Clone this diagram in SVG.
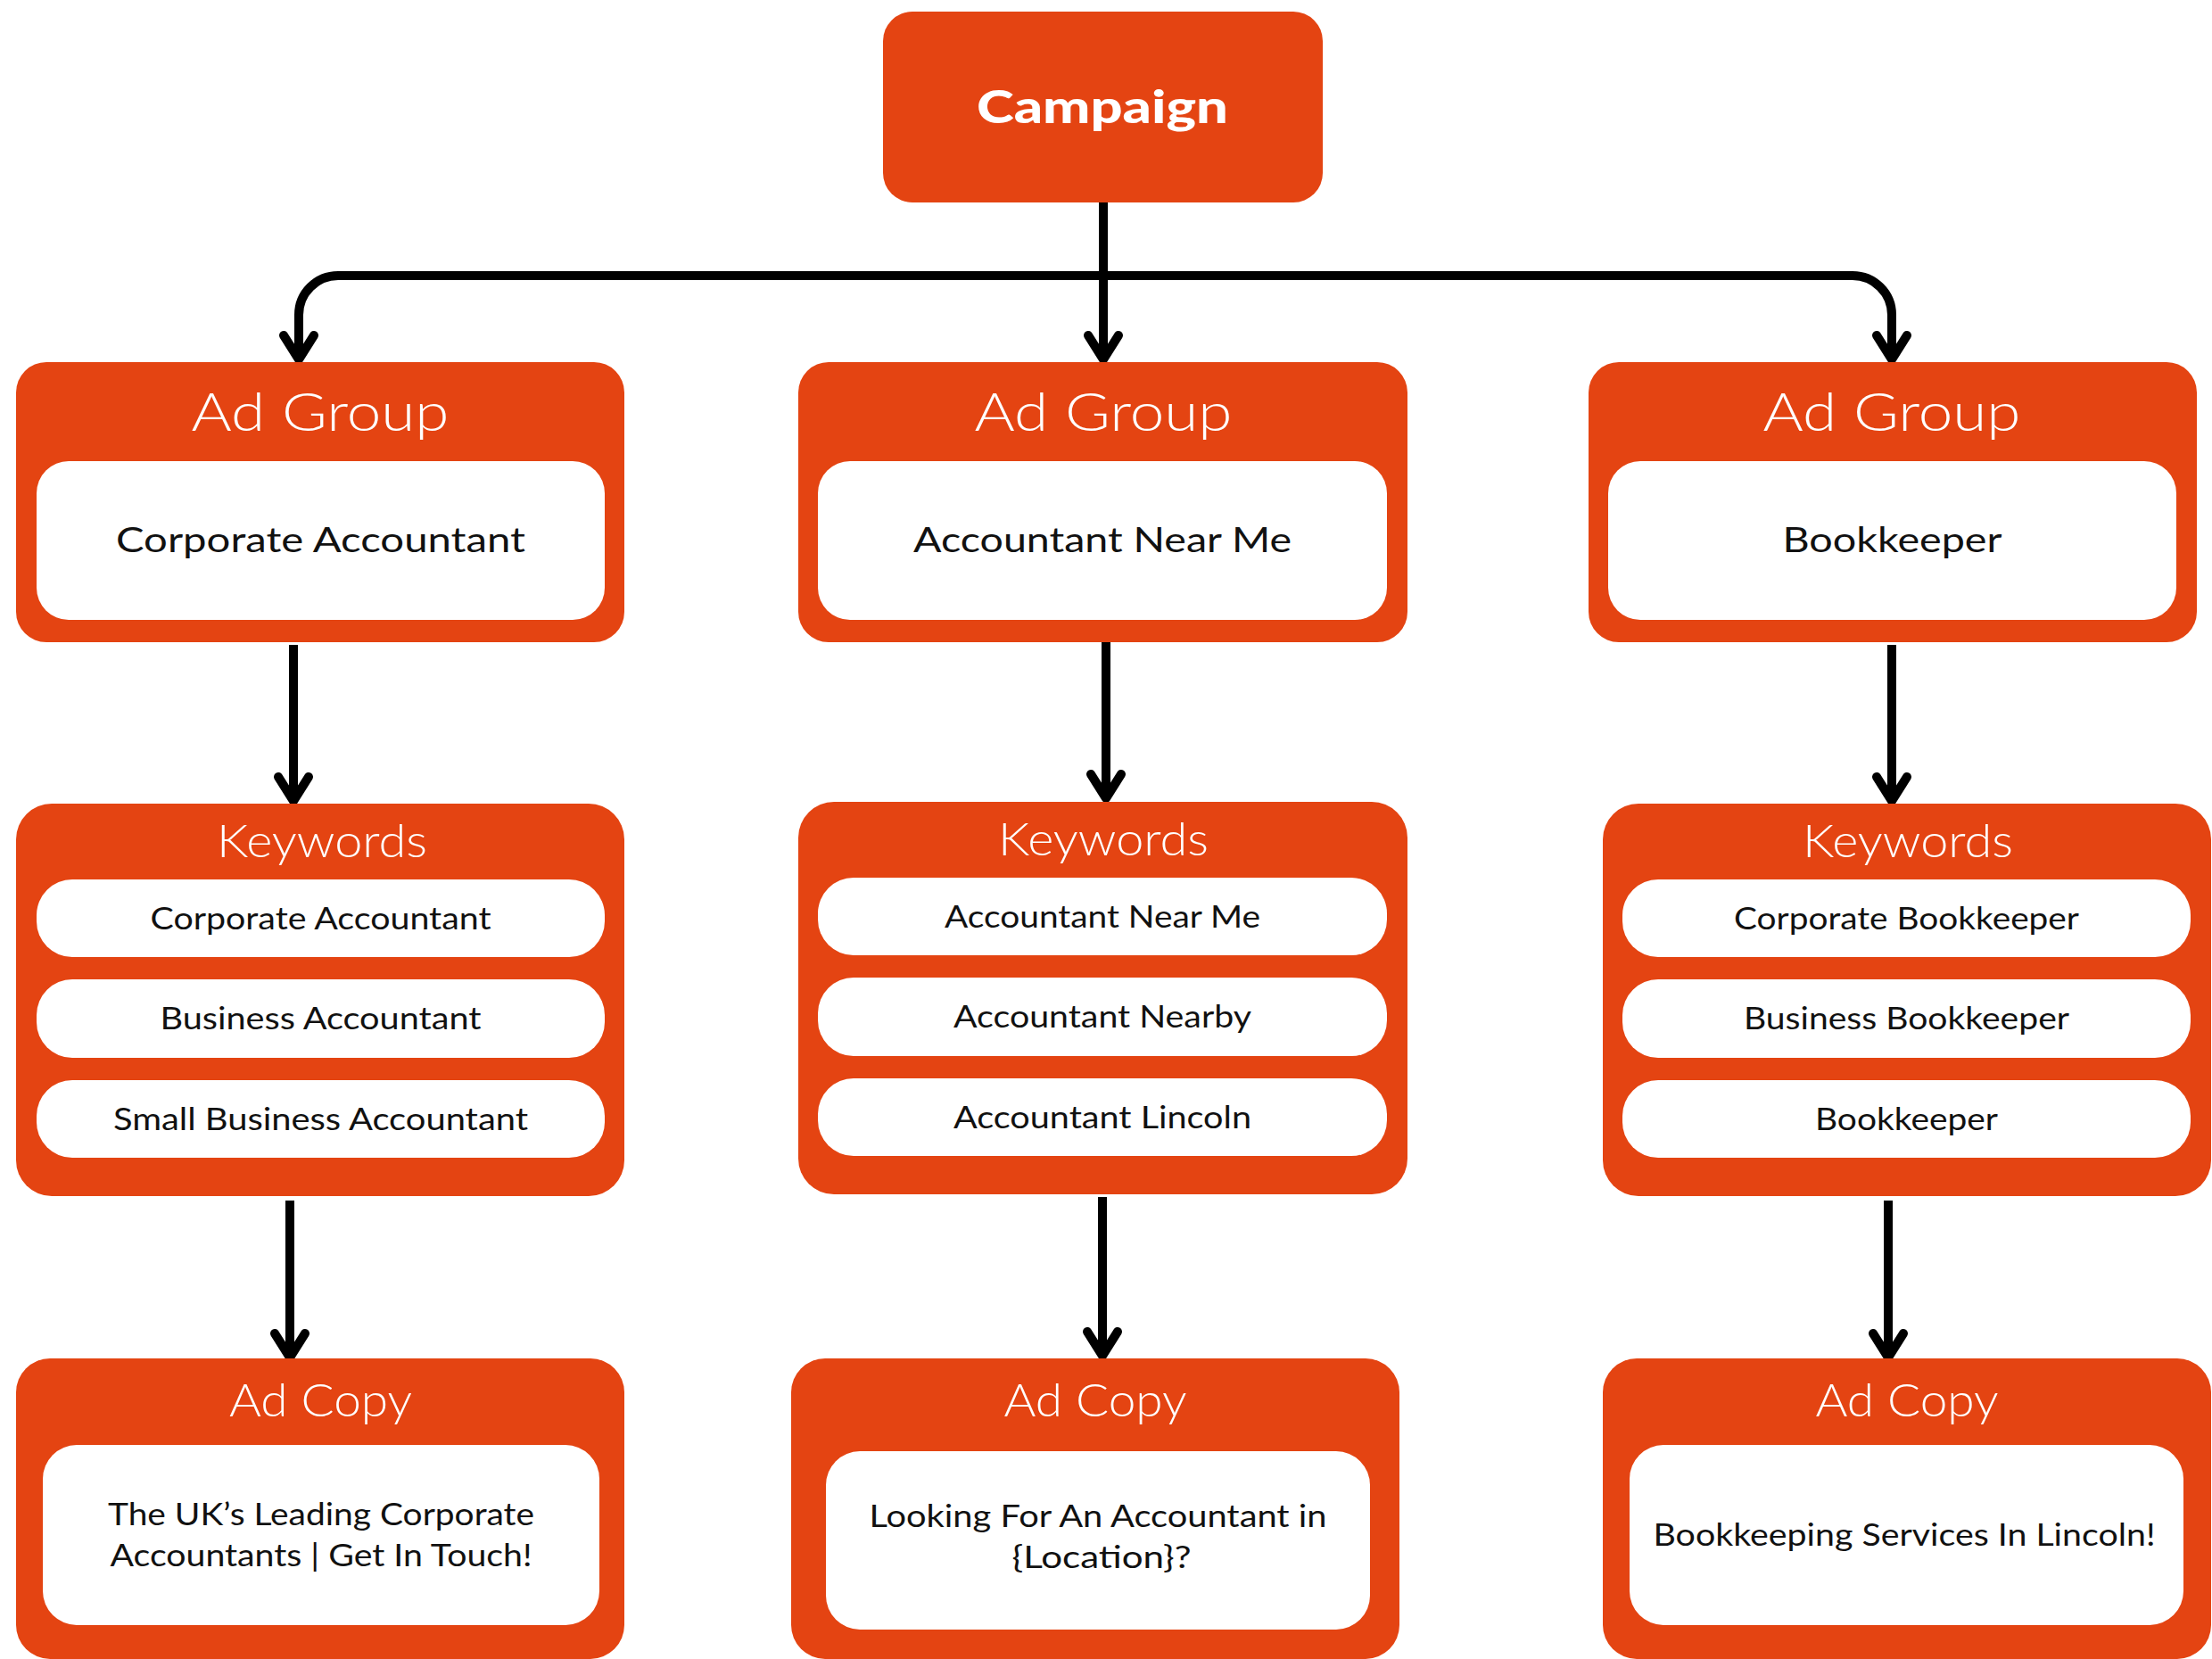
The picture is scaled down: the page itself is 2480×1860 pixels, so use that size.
<svg xmlns="http://www.w3.org/2000/svg" width="2480" height="1860" viewBox="0 0 2480 1860">
<defs>
<style>
.box{fill:#E44412}
.in{fill:#FFFFFF}
.t{font-family:Lato,"Open Sans","Liberation Sans",sans-serif;text-anchor:middle}
.camp{fill:#FFFFFF;font-size:52px;font-weight:900}
.hd{fill:#FFFFFF;font-size:59px;font-weight:300}
.hd2{fill:#FFFFFF;font-size:51px;font-weight:300}
.body{fill:#111111;font-size:39px;font-weight:400}
.kw{fill:#111111;font-size:35px;font-weight:400}
.conn{fill:none;stroke:#000000;stroke-width:10}
</style>
<marker id="arr" markerUnits="userSpaceOnUse" viewBox="-36 -26 42 52" refX="0" refY="0" markerWidth="42" markerHeight="52" orient="auto">
<path d="M-27,-17 L0,0 L-27,17" fill="none" stroke="#000000" stroke-width="10" stroke-linecap="round" stroke-linejoin="round"/>
</marker>
</defs>
<rect width="2480" height="1860" fill="#FFFFFF"/>

<g id="connectors">
<path class="conn" d="M1237,226 V403" marker-end="url(#arr)"/>
<path class="conn" d="M335,403 V353 A44,44 0 0 1 379,309 H2077 A44,44 0 0 1 2121,353 V403" marker-end="url(#arr)"/>
<path class="conn" d="M335,353 V403" marker-end="url(#arr)"/>
<path class="conn" d="M329,723 V898" marker-end="url(#arr)"/>
<path class="conn" d="M1240,720 V895" marker-end="url(#arr)"/>
<path class="conn" d="M2121,723 V898" marker-end="url(#arr)"/>
<path class="conn" d="M325,1346 V1522" marker-end="url(#arr)"/>
<path class="conn" d="M1236,1342 V1520" marker-end="url(#arr)"/>
<path class="conn" d="M2117,1346 V1522" marker-end="url(#arr)"/>
</g>

<g id="campaign">
<rect class="box" x="990" y="13" width="493" height="214" rx="33"/>
<text class="t camp" x="1236" y="138" textLength="282" lengthAdjust="spacingAndGlyphs">Campaign</text>
</g>

<g id="adgroup-1">
<rect class="box" x="18" y="406" width="682" height="314" rx="34"/>
<text class="t hd" x="359" y="483" textLength="289" lengthAdjust="spacingAndGlyphs">Ad Group</text>
<rect class="in" x="41" y="517" width="637" height="178" rx="36"/>
<text class="t body" x="359.5" y="619" textLength="459" lengthAdjust="spacingAndGlyphs">Corporate Accountant</text>
</g>
<g id="adgroup-2">
<rect class="box" x="895" y="406" width="683" height="314" rx="34"/>
<text class="t hd" x="1237" y="483" textLength="289" lengthAdjust="spacingAndGlyphs">Ad Group</text>
<rect class="in" x="917" y="517" width="638" height="178" rx="36"/>
<text class="t body" x="1236" y="619" textLength="424" lengthAdjust="spacingAndGlyphs">Accountant Near Me</text>
</g>
<g id="adgroup-3">
<rect class="box" x="1781" y="406" width="682" height="314" rx="34"/>
<text class="t hd" x="2121" y="483" textLength="289" lengthAdjust="spacingAndGlyphs">Ad Group</text>
<rect class="in" x="1803" y="517" width="637" height="178" rx="36"/>
<text class="t body" x="2121.5" y="619" textLength="246" lengthAdjust="spacingAndGlyphs">Bookkeeper</text>
</g>

<g id="keywords-1">
<rect class="box" x="18" y="901" width="682" height="440" rx="40"/>
<text class="t hd2" x="361" y="961" textLength="236" lengthAdjust="spacingAndGlyphs">Keywords</text>
<rect class="in" x="41" y="986" width="637" height="87" rx="40"/>
<text class="t kw" x="359.5" y="1042" textLength="382" lengthAdjust="spacingAndGlyphs">Corporate Accountant</text>
<rect class="in" x="41" y="1098" width="637" height="88" rx="40"/>
<text class="t kw" x="359.5" y="1154" textLength="360" lengthAdjust="spacingAndGlyphs">Business Accountant</text>
<rect class="in" x="41" y="1211" width="637" height="87" rx="40"/>
<text class="t kw" x="359.5" y="1267" textLength="465" lengthAdjust="spacingAndGlyphs">Small Business Accountant</text>
</g>
<g id="keywords-2">
<rect class="box" x="895" y="899" width="683" height="440" rx="40"/>
<text class="t hd2" x="1237" y="959" textLength="236" lengthAdjust="spacingAndGlyphs">Keywords</text>
<rect class="in" x="917" y="984" width="638" height="87" rx="40"/>
<text class="t kw" x="1236" y="1040" textLength="354" lengthAdjust="spacingAndGlyphs">Accountant Near Me</text>
<rect class="in" x="917" y="1096" width="638" height="88" rx="40"/>
<text class="t kw" x="1236" y="1152" textLength="334" lengthAdjust="spacingAndGlyphs">Accountant Nearby</text>
<rect class="in" x="917" y="1209" width="638" height="87" rx="40"/>
<text class="t kw" x="1236" y="1265" textLength="334" lengthAdjust="spacingAndGlyphs">Accountant Lincoln</text>
</g>
<g id="keywords-3">
<rect class="box" x="1797" y="901" width="682" height="440" rx="40"/>
<text class="t hd2" x="2139" y="961" textLength="236" lengthAdjust="spacingAndGlyphs">Keywords</text>
<rect class="in" x="1819" y="986" width="637" height="87" rx="40"/>
<text class="t kw" x="2137.5" y="1042" textLength="387" lengthAdjust="spacingAndGlyphs">Corporate Bookkeeper</text>
<rect class="in" x="1819" y="1098" width="637" height="88" rx="40"/>
<text class="t kw" x="2137.5" y="1154" textLength="365" lengthAdjust="spacingAndGlyphs">Business Bookkeeper</text>
<rect class="in" x="1819" y="1211" width="637" height="87" rx="40"/>
<text class="t kw" x="2137.5" y="1267" textLength="205" lengthAdjust="spacingAndGlyphs">Bookkeeper</text>
</g>

<g id="adcopy-1">
<rect class="box" x="18" y="1523" width="682" height="337" rx="38"/>
<text class="t hd2" x="359.5" y="1588" textLength="205" lengthAdjust="spacingAndGlyphs">Ad Copy</text>
<rect class="in" x="48" y="1620" width="624" height="202" rx="38"/>
<text class="t kw" x="360" y="1710" textLength="478" lengthAdjust="spacingAndGlyphs">The UK’s Leading Corporate</text>
<text class="t kw" x="360" y="1756" textLength="473" lengthAdjust="spacingAndGlyphs">Accountants | Get In Touch!</text>
</g>
<g id="adcopy-2">
<rect class="box" x="887" y="1523" width="682" height="337" rx="38"/>
<text class="t hd2" x="1228" y="1588" textLength="205" lengthAdjust="spacingAndGlyphs">Ad Copy</text>
<rect class="in" x="926" y="1627" width="610" height="200" rx="38"/>
<text class="t kw" x="1231" y="1712" textLength="513" lengthAdjust="spacingAndGlyphs">Looking For An Accountant in</text>
<text class="t kw" x="1235" y="1758" textLength="201" lengthAdjust="spacingAndGlyphs">{Location}?</text>
</g>
<g id="adcopy-3">
<rect class="box" x="1797" y="1523" width="682" height="337" rx="38"/>
<text class="t hd2" x="2138" y="1588" textLength="205" lengthAdjust="spacingAndGlyphs">Ad Copy</text>
<rect class="in" x="1827" y="1620" width="621" height="202" rx="38"/>
<text class="t kw" x="2135" y="1733" textLength="563" lengthAdjust="spacingAndGlyphs">Bookkeeping Services In Lincoln!</text>
</g>
</svg>
